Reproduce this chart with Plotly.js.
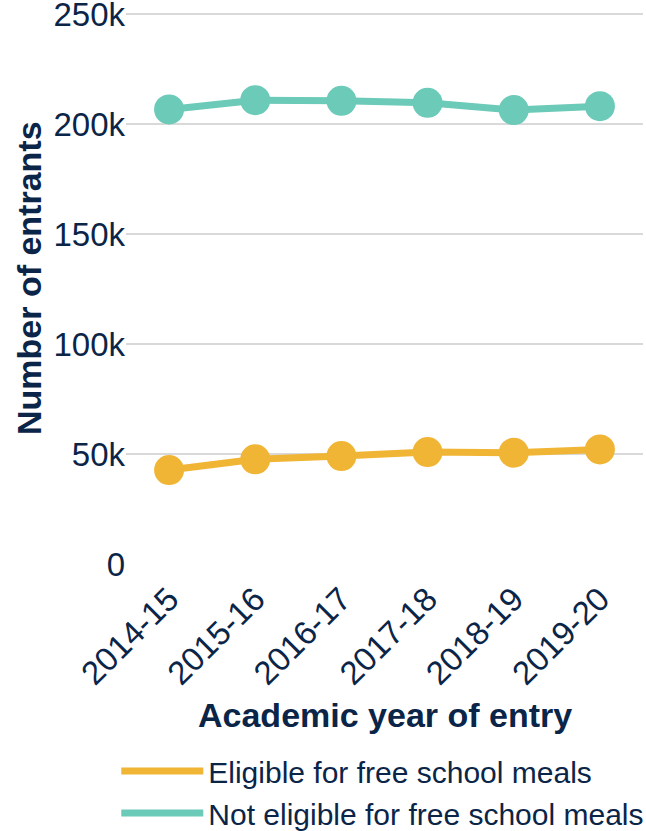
<!DOCTYPE html>
<html>
<head>
<meta charset="utf-8">
<script src="https://cdn.plot.ly/plotly-3.0.1.min.js"></script>
<style>html,body{margin:0;padding:0;background:#fff;}#chart{width:646px;height:831px;}</style>
</head>
<body>
<div id="chart"></div>
<script>
const years = ["2014-15", "2015-16", "2016-17", "2017-18", "2018-19", "2019-20"];
const eligible = [42700, 47600, 49100, 50900, 50600, 52100];
const notEligible = [206700, 210900, 210600, 209700, 206400, 208200];
const seriesNames = ["Eligible for free school meals", "Not eligible for free school meals"];
const yTickVals = [0, 50000, 100000, 150000, 200000, 250000];
const yTickText = ["0", "50k", "100k", "150k", "200k", "250k"];
const xTitle = "Academic year of entry";
const yTitle = "Number of entrants";

const navy = "#0b2548";
const colors = ["#f0b535", "#6bcab8"];
const series = [eligible, notEligible];
const fam = "Liberation Sans, Arial, sans-serif";

const traces = [];
series.forEach((vals, i) => {
  traces.push({
    x: years, y: vals, type: "scatter", mode: "lines",
    name: seriesNames[i], line: {color: colors[i], width: 7},
    showlegend: true, legendgroup: "g" + i, hoverinfo: "skip", cliponaxis: false
  });
  traces.push({
    x: years, y: vals, type: "scatter", mode: "markers",
    name: seriesNames[i], marker: {color: colors[i], size: 30},
    showlegend: false, legendgroup: "g" + i, cliponaxis: false
  });
});

const mL = 126, mR = 3, mT = 12, mB = 267, W = 646, H = 831;
const pw = W - mL - mR, ph = H - mT - mB;

const layout = {
  width: W, height: H,
  margin: {l: mL, r: mR, t: mT, b: mB, autoexpand: false},
  paper_bgcolor: "#fff", plot_bgcolor: "#fff",
  font: {family: fam, color: navy, size: 30},
  xaxis: {
    type: "category", range: [-0.5, 5.5], tickangle: -45,
    showgrid: false, zeroline: false, showline: false, ticks: "",
    tickfont: {size: 33, color: navy}, ticklabelstandoff: 8,
    automargin: false
  },
  yaxis: {
    range: [0, 251000], tickvals: yTickVals, ticktext: yTickText,
    showgrid: true, gridcolor: "#d9d9d9", gridwidth: 2, zeroline: false,
    ticks: "", ticklabeloverflow: "allow",
    tickfont: {size: 33, color: navy},
    automargin: false
  },
  annotations: [
    {text: "<b>" + xTitle + "</b>", xref: "paper", yref: "paper", x: 0.5, y: (H - mB - 715) / ph,
     xanchor: "center", yanchor: "middle", showarrow: false, font: {size: 34, color: navy, family: fam}},
    {text: "<b>" + yTitle + "</b>", xref: "paper", yref: "paper", x: (29 - mL) / pw, y: (H - mB - 278) / ph,
     xanchor: "center", yanchor: "middle", textangle: -90, showarrow: false, font: {size: 34, color: navy, family: fam}}
  ],
  legend: {
    xref: "container", yref: "container", x: 0.18, y: 1 - 745 / 831,
    xanchor: "left", yanchor: "top", orientation: "v", itemwidth: 82,
    font: {size: 30, color: navy}, tracegroupgap: 0, bgcolor: "rgba(0,0,0,0)"
  },
  showlegend: true
};

Plotly.newPlot("chart", traces, layout, {displayModeBar: false, staticPlot: true});
</script>
</body>
</html>
